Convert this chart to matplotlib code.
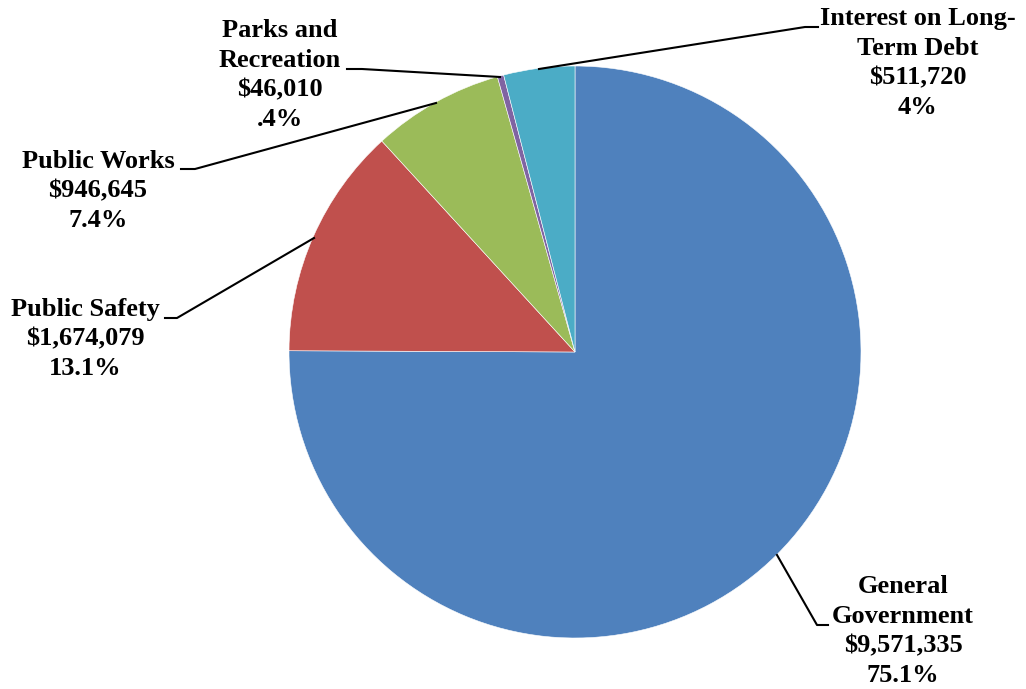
"""Expenditure pie chart by function."""

import matplotlib.pyplot as plt

W, H = 1026, 689

categories = ["General Government", "Public Safety", "Public Works",
              "Parks and Recreation", "Interest on Long-Term Debt"]
amounts = [9571335, 1674079, 946645, 46010, 511720]
pct_labels = ["75.1%", "13.1%", "7.4%", ".4%", "4%"]
label_names = ["General\nGovernment", "Public Safety", "Public Works",
               "Parks and\nRecreation", "Interest on Long-\nTerm Debt"]
colors = ["#4F81BD", "#C0504D", "#9BBB59", "#8064A2", "#4BACC6"]

# label centres and leader polylines, in pixel coords (y from top)
label_pos = [(903, 631), (85, 339), (98, 191), (280, 75), (918, 63)]
leaders = [
    [(777, 555), (817, 625), (828, 625)],
    [(314, 238), (177, 318), (165, 318)],
    [(436, 103), (195, 169), (181, 169)],
    [(500, 77), (362, 69), (347, 69)],
    [(539, 69), (805, 27), (818, 27)],
]


def fy(y):
    return H - y


fig = plt.figure(figsize=(W / 100, H / 100), dpi=100)
ax = fig.add_axes([0, 0, 1, 1])
ax.set_xlim(0, W)
ax.set_ylim(0, H)
ax.set_aspect("equal")
ax.axis("off")

ax.pie(amounts, colors=colors, startangle=90, counterclock=False,
       center=(575, fy(352)), radius=286,
       wedgeprops=dict(edgecolor="white", linewidth=0.4))
ax.set_xlim(0, W)
ax.set_ylim(0, H)

for name, amt, pct, (x, y), pts in zip(label_names, amounts, pct_labels, label_pos, leaders):
    ax.text(x, fy(y), f"{name}\n${amt:,}\n{pct}", ha="center", va="center",
            family="Liberation Serif", fontweight="bold", fontsize=19,
            linespacing=1.38)
    ax.plot([p[0] for p in pts], [fy(p[1]) for p in pts], color="black", linewidth=1.5)

fig.savefig("out.png", dpi=100)
